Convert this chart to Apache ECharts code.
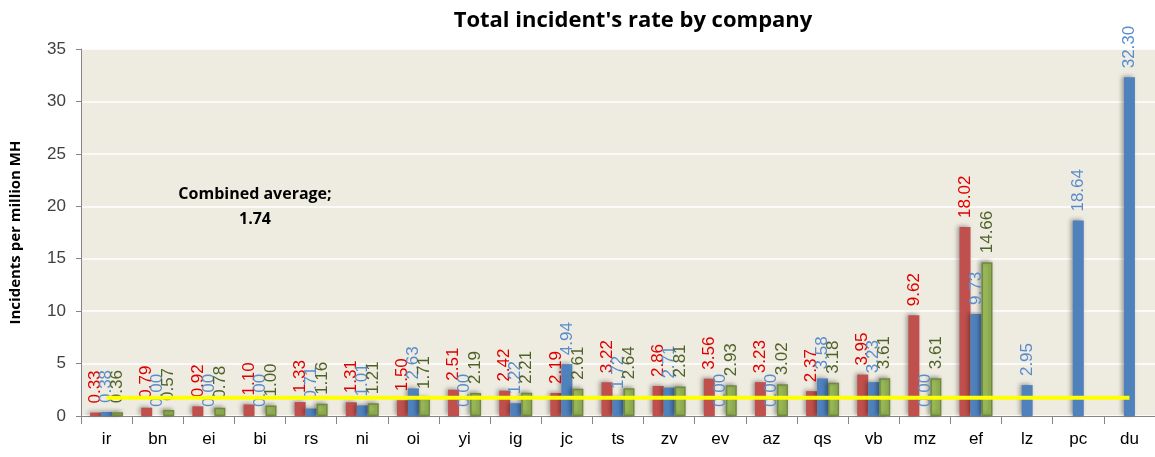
<!DOCTYPE html>
<html>
<head>
<meta charset="utf-8">
<script src="https://cdn.jsdelivr.net/npm/echarts@6/dist/echarts.min.js"></script>
<style>
  html, body { margin: 0; padding: 0; background: #fff; }
  #chart { width: 1155px; height: 457px; }
</style>
</head>
<body>
<div id="chart"></div>
<script>
  // categories (companies)
  const companies = ['ir', 'bn', 'ei', 'bi', 'rs', 'ni', 'oi', 'yi', 'ig', 'jc', 'ts',
    'zv', 'ev', 'az', 'qs', 'vb', 'mz', 'ef', 'lz', 'pc', 'du'];
  // three series, no legend in the original
  const redValues = [0.33, 0.79, 0.92, 1.10, 1.33, 1.31, 1.50, 2.51, 2.42, 2.19, 3.22,
    2.86, 3.56, 3.23, 2.37, 3.95, 9.62, 18.02, null, null, null];
  const blueValues = [0.38, 0.00, 0.00, 0.00, 0.71, 1.01, 2.63, 0.00, 1.22, 4.94, 1.72,
    2.71, 0.00, 0.00, 3.58, 3.23, 0.00, 9.73, 2.95, 18.64, 32.30];
  const greenValues = [0.36, 0.57, 0.78, 1.00, 1.16, 1.21, 1.71, 2.19, 2.21, 2.61, 2.64,
    2.81, 2.93, 3.02, 3.18, 3.61, 3.61, 14.66, null, null, null];
  const combinedAverage = 1.74;
  const yTicks = [0, 5, 10, 15, 20, 25, 30, 35];

  const FONT = 'Liberation Sans';
  const myEcharts = echarts.init(document.getElementById('chart'));

  function barLabel(color) {
    return {
      show: true,
      position: 'top',
      rotate: 90,
      align: 'left',
      verticalAlign: 'middle',
      distance: 9,
      color: color,
      fontFamily: FONT,
      fontSize: 17,
      formatter: p => (p.value == null ? '' : Number(p.value).toFixed(2))
    };
  }

  function barSeries(name, values, color, labelColor, border) {
    return {
      name: name,
      type: 'bar',
      data: values,
      barWidth: 11,
      barGap: '0%',
      z: 2,
      itemStyle: {
        color: color,
        borderColor: border || color,
        borderWidth: border ? 1.5 : 0,
        shadowColor: 'rgba(0,0,0,0.35)',
        shadowBlur: 4,
        shadowOffsetX: -2,
        shadowOffsetY: -1
      },
      label: barLabel(labelColor)
    };
  }

  let option = {
    backgroundColor: '#ffffff',
    animation: false,
    title: {
      text: "Total incident's rate by company",
      left: 628,
      textAlign: 'center',
      top: 5,
      textStyle: { fontFamily: 'Open Sans', fontWeight: 'bold', fontSize: 22, color: '#000' }
    },
    grid: {
      left: 81,
      right: -5,
      top: 49,
      bottom: 41,
      show: true,
      backgroundColor: '#eeece1',
      borderWidth: 0
    },
    xAxis: {
      type: 'category',
      data: companies,
      axisLine: { lineStyle: { color: '#868686', width: 1 } },
      axisTick: { show: true, length: 8, lineStyle: { color: '#868686' } },
      axisLabel: { margin: 15, fontFamily: FONT, fontSize: 17, color: '#000' }
    },
    yAxis: {
      type: 'value',
      min: yTicks[0],
      max: yTicks[yTicks.length - 1],
      interval: 5,
      name: 'Incidents per million MH',
      nameLocation: 'middle',
      nameGap: 58,
      nameTextStyle: { fontFamily: 'Open Sans', fontWeight: 'bold', fontSize: 15, color: '#000' },
      axisLine: { show: true, lineStyle: { color: '#868686' } },
      axisTick: { show: true, length: 5, lineStyle: { color: '#868686' } },
      splitLine: { show: true, lineStyle: { color: '#ffffff', width: 1.5 } },
      axisLabel: { margin: 15, fontFamily: FONT, fontSize: 17, color: '#404040' }
    },
    graphic: [{
      type: 'text',
      x: 255,
      y: 182,
      style: {
        text: 'Combined average;\n1.74',
        align: 'center',
        verticalAlign: 'top',
        fontFamily: 'Open Sans',
        fontWeight: 'bold',
        fontSize: 16,
        lineHeight: 25,
        fill: '#000'
      }
    }],
    series: [
      barSeries('red', redValues, '#c0504d', '#e00000'),
      barSeries('blue', blueValues, '#4f81bd', '#5a8ccc'),
      barSeries('green', greenValues, '#9bbb59', '#4f6228', '#71893f'),
      {
        name: 'Combined average',
        type: 'line',
        data: companies.map(() => combinedAverage),
        symbol: 'none',
        z: 3,
        lineStyle: { color: '#ffff00', width: 4 }
      }
    ]
  };
  myEcharts.setOption(option);
</script>
</body>
</html>
